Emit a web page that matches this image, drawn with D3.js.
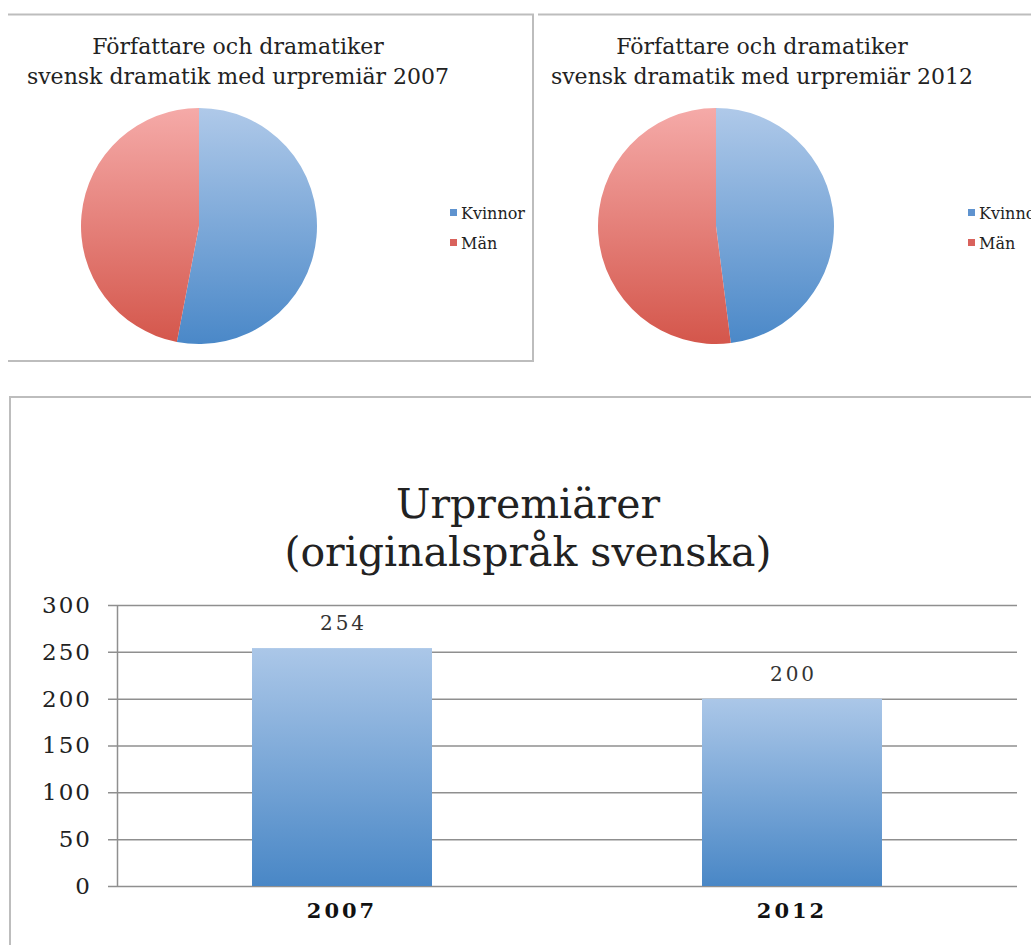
<!DOCTYPE html>
<html>
<head>
<meta charset="utf-8">
<script src="https://cdn.jsdelivr.net/npm/d3@7"></script>
<style>
  body { margin: 0; background: #fff; }
  svg { display: block; font-family: "DejaVu Serif", serif; }
</style>
</head>
<body>
<svg width="1031" height="945"></svg>
<script>
// pie data (share of authors)
const pieYears = ['2007', '2012']
const genders = ['Kvinnor', 'Män']
const kvinnor = [53, 48]
const man = [47, 52]
const pieTitle = 'Författare och dramatiker'
const pieSubtitle = 'svensk dramatik med urpremiär '

// bar data
const barYears = ['2007', '2012']
const barValues = [254, 200]
const yTicks = [0, 50, 100, 150, 200, 250, 300]
const barTitle = ['Urpremiärer', '(originalspråk svenska)']

const svg = d3.select('svg')
const defs = svg.append('defs')
const borderColor = '#bdbdbd'

// gradients, light on top, dark at the bottom
function addGradient(id, top, bottom, r) {
    const g = defs.append('linearGradient').attr('id', id)
        .attr('x1', 0).attr('x2', 0)
    if (r) {
        g.attr('gradientUnits', 'userSpaceOnUse').attr('y1', -r).attr('y2', r)
    } else {
        g.attr('y1', 0).attr('y2', 1)
    }
    g.append('stop').attr('offset', '0%').attr('stop-color', top)
    g.append('stop').attr('offset', '100%').attr('stop-color', bottom)
}

const pieR = 118
addGradient('gradBluePie', '#afc9e9', '#4a88c8', pieR)
addGradient('gradRedPie', '#f5aaa8', '#d4564b', pieR)
addGradient('gradBar', '#abc7e8', '#4987c6')

// panel borders
const border = svg.append('g').attr('fill', 'none')
    .attr('stroke', borderColor).attr('stroke-width', 2)
border.append('path').attr('d', 'M8,14.5H533V361H8')
border.append('path').attr('d', 'M538,14.5H1031')
border.append('path').attr('d', 'M10,945V397H1031')

// pies
const pie = d3.pie().sort(null).value(d => d.value)
const arc = d3.arc().innerRadius(0).outerRadius(pieR)
const pieFill = { 'Kvinnor': 'url(#gradBluePie)', 'Män': 'url(#gradRedPie)' }
const legendFill = { 'Kvinnor': '#5f93cf', 'Män': '#d9625c' }

const pieCx = [199, 716]
const titleCx = [238, 762]
const legendX = [450, 968]

pieYears.forEach((year, i) => {
    const slices = [
        { key: genders[0], value: kvinnor[i] },
        { key: genders[1], value: man[i] }
    ]

    const title = svg.append('text')
        .attr('text-anchor', 'middle')
        .attr('font-size', 22)
        .attr('fill', '#222')
    title.append('tspan').attr('x', titleCx[i]).attr('y', 54).text(pieTitle)
    title.append('tspan').attr('x', titleCx[i]).attr('y', 84).text(pieSubtitle + year)

    const g = svg.append('g').attr('transform', `translate(${pieCx[i]},226)`)
    g.selectAll('path')
        .data(pie(slices))
        .enter()
        .append('path')
            .attr('d', arc)
            .attr('fill', d => pieFill[d.data.key])

    // legend (the second one runs off the right edge, as in the original)
    const legend = svg.append('g').attr('transform', `translate(${legendX[i]},0)`)
    const items = legend.selectAll('g')
        .data(genders)
        .enter()
        .append('g')
            .attr('transform', (d, j) => `translate(0,${213 + j * 30})`)
    items.append('rect')
        .attr('x', 0).attr('y', -4)
        .attr('width', 7).attr('height', 7)
        .attr('fill', d => legendFill[d])
    items.append('text')
        .attr('x', 11).attr('y', 6)
        .attr('font-size', 16)
        .attr('fill', '#222')
        .text(d => d)
})

// bar chart
const x = d3.scaleBand().domain(barYears).range([117, 1017])
    .paddingInner(0.6).paddingOuter(0.3)
const y = d3.scaleLinear().domain([0, 300]).range([886, 605])

const t = svg.append('text')
    .attr('text-anchor', 'middle')
    .attr('font-size', 41)
    .attr('fill', '#222')
barTitle.forEach((line, i) => {
    t.append('tspan').attr('x', 528).attr('y', 518 + i * 48).text(line)
})

const yAxis = svg.append('g')
    .attr('transform', 'translate(117,0)')
    .call(d3.axisLeft(y).tickValues(yTicks).tickSizeOuter(0).tickSizeInner(9).tickPadding(16))
yAxis.select('.domain').attr('stroke', '#8f8f8f').attr('stroke-width', 1.5)
yAxis.selectAll('.tick line')
    .attr('x1', -9).attr('x2', 1017 - 117)
    .attr('stroke', '#8f8f8f').attr('stroke-width', 1.5)
yAxis.selectAll('.tick text')
    .attr('font-family', '"DejaVu Serif", serif')
    .attr('font-size', 23)
    .attr('letter-spacing', 2)
    .attr('fill', '#222')

svg.append('g')
    .selectAll('rect')
    .data(barValues)
    .enter()
    .append('rect')
        .attr('x', (d, i) => x(barYears[i]))
        .attr('y', d => y(d))
        .attr('width', x.bandwidth())
        .attr('height', d => y(0) - y(d))
        .attr('fill', 'url(#gradBar)')

svg.append('g')
    .selectAll('text')
    .data(barValues)
    .enter()
    .append('text')
        .attr('x', (d, i) => x(barYears[i]) + x.bandwidth() / 2 + 1.5)
        .attr('y', d => y(d) - 18)
        .attr('text-anchor', 'middle')
        .attr('font-size', 20)
        .attr('letter-spacing', 3)
        .attr('fill', '#333')
        .text(d => d)

const xAxis = svg.append('g')
    .attr('transform', 'translate(0,886)')
    .call(d3.axisBottom(x).tickSize(0).tickPadding(17))
xAxis.select('.domain').remove()
xAxis.selectAll('.tick text')
    .attr('font-family', '"DejaVu Serif", serif')
    .attr('font-size', 21)
    .attr('font-weight', 'bold')
    .attr('letter-spacing', 3)
    .attr('fill', '#111')
</script>
</body>
</html>
